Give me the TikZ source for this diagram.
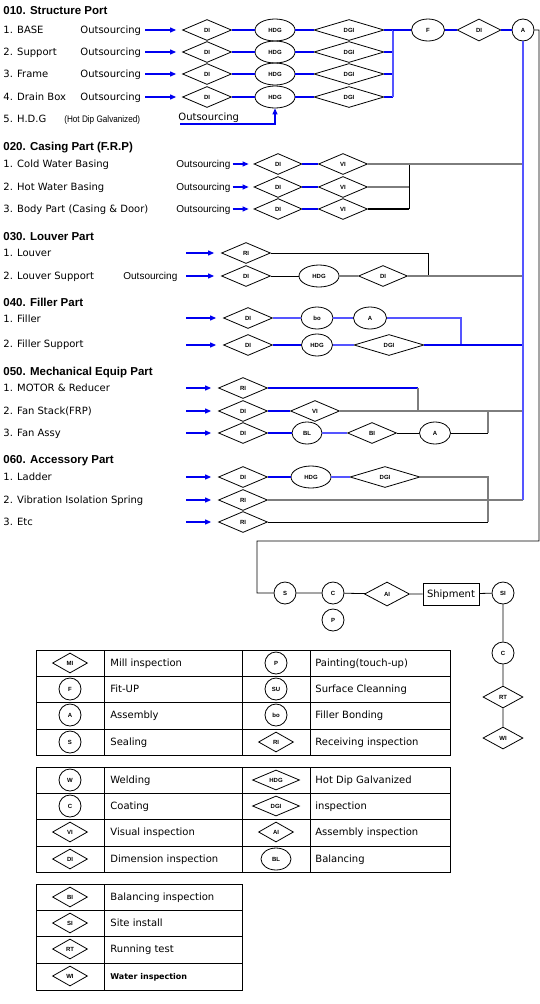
\documentclass[tikz,border=0pt]{standalone}
\usepackage{fontspec}
\setmainfont{DejaVu Sans}
\newfontfamily\arialfont{Liberation Sans}
\newfontfamily\narrowfont[FakeStretch=0.86]{Liberation Sans}
\usetikzlibrary{shapes.geometric, arrows.meta}
\newcommand{\SymFont}{\arialfont\bfseries\fontsize{6}{6}\selectfont}
\definecolor{lineblue}{RGB}{0,0,240}
\definecolor{lightblue}{RGB}{85,85,255}
\definecolor{linegray}{RGB}{125,125,125}

\begin{document}
\begin{tikzpicture}[x=1pt, y=-1pt, line width=0.8pt,
  dia/.style={draw, diamond, aspect=2, inner sep=0pt, minimum width=49, minimum height=21, font=\SymFont},
  ell/.style={draw, ellipse, inner sep=0pt, minimum width=40, minimum height=22, font=\SymFont},
  circ/.style={draw, circle, inner sep=0pt, minimum size=22, font=\SymFont},
  ldia/.style={dia, minimum width=35, minimum height=20},
  hdia/.style={ldia, minimum width=47},
  bell/.style={ell, minimum width=30},
  head/.style={anchor=west, inner sep=0pt, text height=8pt, text depth=0pt, font=\arialfont\bfseries\fontsize{11.5}{13}\selectfont},
  item/.style={anchor=west, inner sep=0pt, text height=7.3pt, text depth=0pt, font=\fontsize{10}{12}\selectfont},
  smalltext/.style={item, font=\arialfont\fontsize{10}{12}\selectfont},
  link/.style={line width=1.1pt},
  inarrow/.style={lineblue, line width=1.1pt, -{Triangle[length=6pt, width=5pt]}}]
\useasboundingbox (0,0) rectangle (540,1004);

% part headings and part names
\foreach \y/\descr in {10/010. Structure Port, 146/020. Casing Part (F.R.P), 236/030. Louver Part, 302/040. Filler Part, 371/050. Mechanical Equip Part, 459/060. Accessory Part}
\node[head] (h\y) at (3,\y) {\descr};

\foreach \y/\descr in {30/1. BASE, 52/2. Support, 74/3. Frame, 97/4. Drain Box, 164/1. Cold Water Basing, 187/2. Hot Water Basing, 209/3. Body Part (Casing \& Door), 253/1. Louver, 276/2. Louver Support, 319/1. Filler, 344/2. Filler Support, 388/1. MOTOR \& Reducer, 411/2. Fan Stack(FRP), 433/3. Fan Assy, 477/1. Ladder, 500/2. Vibration Isolation Spring, 522/3. Etc}
\node[item] (p\y) at (3,\y) {\descr};
\node[item] (p119) at (3,119) {5. H.D.G\hspace{18pt}{\narrowfont\fontsize{9.5}{11}\selectfont (Hot Dip Galvanized)}};

% structure rows
\foreach \i/\y in {1/30, 2/52, 3/74, 4/97} {
  \node[item] (so\i) at (80,\y) {Outsourcing};
  \node[dia] (sdi\i) at (207,\y) {DI};
  \node[ell] (shdg\i) at (275,\y) {HDG};
  \node[dia, minimum width=70] (sdgi\i) at (349,\y) {DGI};
  \coordinate (sj\i) at (393,\y);
  \draw[inarrow] ([xshift=4]so\i.east) -- ([xshift=-6]sdi\i.west);
  \draw[link, lineblue] (sdi\i) -- (shdg\i) -- (sdgi\i) -- (sj\i);
}
\node[item] (so5) at (178,117) {Outsourcing};
\coordinate (sk) at (180,124);
\draw[inarrow] (sk) -| (shdg4.south);

\node[ell, minimum width=33] (sf) at (428,30) {F};
\node[dia, minimum width=44, minimum height=22] (sdi) at (479,30) {DI};
\node[circ] (sa) at (523,30) {A};
\draw[link, lightblue] (sj1) -- (sj4);
\draw[link, lineblue] (sj1) -- (sf) -- (sdi) -- (sa);

% casing rows
\foreach \i/\y/\col in {1/164/linegray, 2/187/linegray, 3/209/black} {
  \node[smalltext] (co\i) at (176,\y) {Outsourcing};
  \node[dia, minimum width=48] (cdi\i) at (278,\y) {DI};
  \node[dia] (cvi\i) at (343,\y) {VI};
  \coordinate (cj\i) at (409,\y);
  \draw[inarrow] ([xshift=2]co\i.east) -- ([xshift=-5]cdi\i.west);
  \draw[link, lineblue] (cdi\i) -- (cvi\i);
  \draw[link, \col] (cvi\i) -- (cj\i);
}
\coordinate (v1) at (523,164);
\draw (cj1) -- (cj3);
\draw[link, linegray] (cj1) -- (v1);

% first check of every other row
\foreach \y/\cx/\sym in {253/246/RI, 276/246/DI, 318/248/DI, 345/248/DI, 388/243/RI, 411/243/DI, 433/243/DI, 477/243/DI, 500/243/RI, 522/243/RI} {
  \node[dia] (d\y) at (\cx,\y) {\sym};
  \coordinate (a\y) at (186,\y);
  \draw[inarrow] (a\y) -- ([xshift=-7]d\y.west);
}

% louver
\node[smalltext] (lo) at (123,276) {Outsourcing};
\node[ell] (lhdg) at (319,276) {HDG};
\node[dia] (ldi) at (383,276) {DI};
\coordinate (lj1) at (428,253);
\coordinate (lj2) at (428,276);
\coordinate (v2) at (523,276);
\draw (d253) -- (lj1) -- (lj2);
\draw (d276) -- (lhdg);
\draw[link, linegray] (lhdg) -- (ldi) -- (v2);

% filler
\node[ell, minimum width=32] (fbo) at (317,318) {bo};
\node[ell, minimum width=33] (fa) at (370,318) {A};
\node[ell, minimum width=31] (fhdg) at (317,345) {HDG};
\node[dia, minimum width=70] (fdgi) at (389,345) {DGI};
\coordinate (fj1) at (461,318);
\coordinate (fj2) at (461,345);
\coordinate (v3) at (523,345);
\draw[link, lightblue] (d318) -- (fbo) -- (fa) -- (fj1) -- (fj2);
\draw[link, lineblue] (d345) -- (fhdg);
\draw[link, lightblue] (fhdg) -- (fdgi);
\draw[link, lineblue] (fdgi) -- (v3);

% mechanical equip
\node[dia] (mvi) at (315,411) {VI};
\node[ell, minimum width=30] (mbl) at (307,433) {BL};
\node[dia] (mbi) at (372,433) {BI};
\node[ell, minimum width=31] (ma) at (435,433) {A};
\coordinate (mj1) at (418,388);
\coordinate (mj2) at (418,411);
\coordinate (mj3) at (488,433);
\coordinate (mj4) at (488,411);
\coordinate (v4) at (523,411);
\draw[link, lineblue] (d388) -- (mj1);
\draw[link, linegray] (mj1) -- (mj2);
\draw[link, lineblue] (d411) -- (mvi);
\draw[link, linegray] (mvi) -- (v4);
\draw[link, lineblue] (d433) -- (mbl);
\draw[link, lightblue] (mbl) -- (mbi);
\draw (mbi) -- (ma) -- (mj3);
\draw[link, linegray] (mj3) -- (mj4);

% accessory
\node[ell] (ahdg) at (311,477) {HDG};
\node[dia, minimum width=70] (adgi) at (385,477) {DGI};
\coordinate (aj1) at (488,477);
\coordinate (aj2) at (488,522);
\coordinate (v5) at (523,500);
\draw[link, lineblue] (d477) -- (ahdg);
\draw[link, lightblue] (ahdg) -- (adgi);
\draw[link, linegray] (adgi) -- (aj1) -- (aj2);
\draw[link, linegray] (d500) -- (v5);
\draw (d522) -- (aj2);

% collecting line
\draw[link, lightblue] (sa) -- (v5);

% final assembly and site
\coordinate (o1) at (539,30);
\coordinate (o2) at (539,541);
\coordinate (o3) at (257,541);
\coordinate (o4) at (257,593);
\node[circ] (bs) at (285,593) {S};
\node[circ] (bc) at (333,593) {C};
\node[circ] (bp) at (333,620) {P};
\node[dia, minimum width=45, minimum height=24] (bai) at (387,594) {AI};
\node[draw, item, anchor=center, inner sep=3pt, minimum width=56, minimum height=22] (ship) at (451,594) {Shipment};
\node[circ] (bsi) at (503,593) {SI};
\node[circ] (bc2) at (503,653) {C};
\node[dia, minimum width=40, minimum height=22] (brt) at (503,697) {RT};
\node[dia, minimum width=40, minimum height=22] (bwi) at (503,738) {WI};
\draw (sa) -- (o1) -- (o2) -- (o3) -- (o4) -- (bs) -- (bc) -- (bai) -- (ship) -- (bsi) -- (bc2) -- (brt) -- (bwi);

% legend tables
\draw (36,650) rectangle (450,755) (36,767) rectangle (450,872) (36,884) rectangle (242,990);
\foreach \y in {676,702,729,793,819,846}
\draw (36,\y) -- (450,\y);
\foreach \y in {910,936,963}
\draw (36,\y) -- (242,\y);
\foreach \x in {104,242,310}
\draw (\x,650) -- (\x,755) (\x,767) -- (\x,872);
\draw (104,884) -- (104,990);

\foreach \y/\shp/\sym/\descr in {663/ldia/MI/Mill inspection, 689/circ/F/Fit-UP, 715/circ/A/Assembly, 742/circ/S/Sealing, 780/circ/W/Welding, 806/circ/C/Coating, 832/ldia/VI/Visual inspection, 859/ldia/DI/Dimension inspection, 897/ldia/BI/Balancing inspection, 923/ldia/SI/Site install, 949/ldia/RT/Running test, 976/ldia/WI/{\bfseries\fontsize{8}{9}\selectfont Water inspection}} {
  \node[\shp] (ks\y) at (70,\y) {\sym};
  \node[item] (kt\y) at (110,\y) {\descr};
}
\foreach \y/\shp/\sym/\descr in {663/circ/P/Painting(touch-up), 689/circ/SU/Surface Cleanning, 715/circ/bo/Filler Bonding, 742/ldia/RI/Receiving inspection, 780/hdia/HDG/Hot Dip Galvanized, 806/hdia/DGI/inspection, 832/ldia/AI/Assembly inspection, 859/bell/BL/Balancing} {
  \node[\shp] (rs\y) at (276,\y) {\sym};
  \node[item] (rt\y) at (315,\y) {\descr};
}
\end{tikzpicture}
\end{document}
